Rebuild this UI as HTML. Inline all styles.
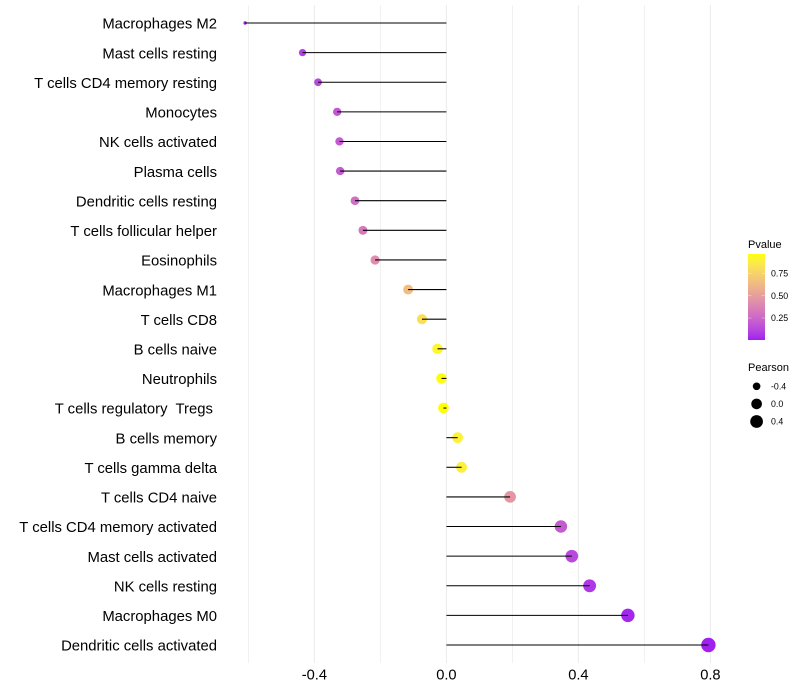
<!DOCTYPE html>
<html>
<head>
<meta charset="utf-8">
<style>
html,body{margin:0;padding:0;background:#fff;}
svg{display:block;font-family:"Liberation Sans",sans-serif;}
text{white-space:pre;}
</style>
</head>
<body>
<svg id="chart" width="800" height="700" viewBox="0 0 800 700" xmlns="http://www.w3.org/2000/svg"></svg>
<script>
const categories = ["Macrophages M2","Mast cells resting","T cells CD4 memory resting","Monocytes","NK cells activated","Plasma cells","Dendritic cells resting","T cells follicular helper","Eosinophils","Macrophages M1","T cells CD8","B cells naive","Neutrophils","T cells regulatory  Tregs ","B cells memory","T cells gamma delta","T cells CD4 naive","T cells CD4 memory activated","Mast cells activated","NK cells resting","Macrophages M0","Dendritic cells activated"];
const pearson = [-0.61,-0.436,-0.389,-0.331,-0.324,-0.322,-0.277,-0.253,-0.216,-0.116,-0.074,-0.027,-0.015,-0.009,0.034,0.046,0.193,0.347,0.38,0.434,0.55,0.794];
const pvalue = [0.01,0.1,0.13,0.19,0.2,0.2,0.29,0.33,0.42,0.65,0.82,0.93,0.96,0.968,0.9,0.89,0.47,0.2,0.13,0.07,0.02,0.005];
const xMajorTicks = [-0.4,0,0.4,0.8];
const xMinorTicks = [-0.6,-0.2,0.2,0.6];
const pvalueLegendTicks = [0.25,0.5,0.75];
const pearsonLegendTicks = [-0.4,0,0.4];

const svg = document.getElementById('chart');
const NS = 'http://www.w3.org/2000/svg';
function make(tag, attrs, parent){
  const el = document.createElementNS(NS, tag);
  for (const k in attrs) el.setAttribute(k, attrs[k]);
  (parent || svg).appendChild(el);
  return el;
}
const xScale = v => 446.4 + v * 330;
const yScale = i => 23 + i * (622 / (categories.length - 1));
const pMin = 0.004, pMax = 0.968;
const pearMin = Math.min(...pearson), pearMax = Math.max(...pearson);
const sizeScale = v => 3.4 + 11 * Math.sqrt((v - pearMin) / (pearMax - pearMin));

function toLab(c){
  const f = u => { u/=255; return u>0.04045?Math.pow((u+0.055)/1.055,2.4):u/12.92; };
  const r=f(c[0]),g=f(c[1]),b=f(c[2]);
  const X=(0.4124*r+0.3576*g+0.1805*b)/0.95047, Y=0.2126*r+0.7152*g+0.0722*b, Z=(0.0193*r+0.1192*g+0.9505*b)/1.08883;
  const h = t => t>0.008856?Math.cbrt(t):7.787*t+16/116;
  return [116*h(Y)-16,500*(h(X)-h(Y)),200*(h(Y)-h(Z))];
}
function fromLab(l){
  const fy=(l[0]+16)/116, fx=fy+l[1]/500, fz=fy-l[2]/200;
  const g = t => t*t*t>0.008856?t*t*t:(t-16/116)/7.787;
  const X=g(fx)*0.95047,Y=g(fy),Z=g(fz)*1.08883;
  const r=3.2406*X-1.5372*Y-0.4986*Z, gg=-0.9689*X+1.8758*Y+0.0415*Z, b=0.0557*X-0.204*Y+1.057*Z;
  const e = u => { u=Math.max(0,Math.min(1,u)); return Math.round(255*(u>0.0031308?1.055*Math.pow(u,1/2.4)-0.055:12.92*u)); };
  return 'rgb('+e(r)+','+e(gg)+','+e(b)+')';
}
const labLow = toLab([160,32,240]), labHigh = toLab([255,255,0]);
function colorScale(p){
  const t = Math.max(0, Math.min(1, (p - pMin) / (pMax - pMin)));
  return fromLab(labLow.map((a, i) => a + (labHigh[i] - a) * t));
}

// Gridlines
const grid = make('g', {});


xMinorTicks.forEach(v => {
  const l = make('line', {x1:xScale(v), x2:xScale(v), y1:5, y2:663, stroke:'#ebebeb', 'stroke-width':0.7}, grid);
  
  
});
xMajorTicks.forEach(v => {
  const l = make('line', {x1:xScale(v), x2:xScale(v), y1:5, y2:663, stroke:'#ebebeb', 'stroke-width':1}, grid);
  
  
});

// Points
categories.forEach((c, i) => {
  const pt = make('circle', {cx:xScale(pearson[i]), cy:yScale(i), r:sizeScale(pearson[i]) / 2, fill:colorScale(pvalue[i])});
  
  
});
// Segments
categories.forEach((c, i) => {
  const seg = make('line', {x1:xScale(0), x2:xScale(pearson[i]), y1:yScale(i), y2:yScale(i), stroke:'#000', 'stroke-width':1.07});
  
  
});
// Category labels
categories.forEach((c, i) => {
  const t = make('text', {x:217, y:yScale(i) + 5.7, 'text-anchor':'end', 'font-size':14.85, fill:'#000'});
  t.textContent = c;
  
  
});
// X tick labels
xMajorTicks.forEach(v => {
  const t = make('text', {x:xScale(v), y:679.5, 'text-anchor':'middle', 'font-size':14.67, fill:'#000'});
  t.textContent = v.toFixed(1);
  
  
});

// Colour legend
const legendTitle1 = make('text', {x:748, y:248, 'font-size':11, fill:'#000'});
legendTitle1.textContent = 'Pvalue';


const defs = make('defs', {});
const grad = make('linearGradient', {id:'pgrad', x1:0, y1:1, x2:0, y2:0}, defs);
for (let s = 0; s <= 20; s++) {
  make('stop', {offset:(s / 20), 'stop-color':colorScale(pMin + (pMax - pMin) * s / 20)}, grad);
}
const bar = make('rect', {x:748, y:254, width:17, height:86, fill:'url(#pgrad)'});


const legY = p => 340 - (p - pMin) / (pMax - pMin) * 86;
pvalueLegendTicks.forEach(p => {
  const a = make('line', {x1:748, x2:751.4, y1:legY(p), y2:legY(p), stroke:'#fff', 'stroke-opacity':0.6, 'stroke-width':0.6});
  
  
  const b = make('line', {x1:761.6, x2:765, y1:legY(p), y2:legY(p), stroke:'#fff', 'stroke-opacity':0.6, 'stroke-width':0.6});
  
  
  const t = make('text', {x:771, y:legY(p) + 3.1, 'font-size':8.8, fill:'#000'});
  t.textContent = p.toFixed(2);
  
  
});

// Size legend
const legendTitle2 = make('text', {x:748, y:371, 'font-size':11, fill:'#000'});
legendTitle2.textContent = 'Pearson';


pearsonLegendTicks.forEach((v, i) => {
  const cy = 386.3 + i * 17.6;
  const d = make('circle', {cx:756.6, cy:cy, r:sizeScale(v) / 2, fill:'#000'});
  
  
  const t = make('text', {x:771, y:cy + 3.1, 'font-size':8.8, fill:'#000'});
  t.textContent = v.toFixed(1);
  
  
});
</script>
</body>
</html>
